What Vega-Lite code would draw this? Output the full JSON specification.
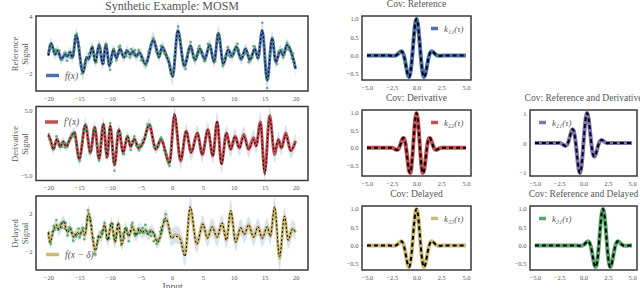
{
"$schema": "https://vega.github.io/schema/vega-lite/v6.json",
"padding": {"left": 9, "top": -2, "right": 0, "bottom": 0},
"background": "white",
"config": {
 "view": {"stroke": "#3a3a3a", "strokeWidth": 1.5},
 "axis": {"domain": false, "ticks": false, "grid": false, "labelFont": "Liberation Serif", "labelFontSize": 6.5, "labelColor": "#555", "labelPadding": 4, "labelFlush": false, "labelOverlap": false, "titleFont": "Liberation Serif", "titleFontSize": 8.5, "titleColor": "#555", "titleFontWeight": "normal"},
 "title": {"font": "Liberation Serif", "fontSize": 9.5, "color": "#555", "fontWeight": "normal", "offset": 2.5},
 "legend": {"labelFont": "Liberation Serif", "labelFontStyle": "italic", "labelFontSize": 9.5, "labelColor": "#555", "symbolType": "stroke", "symbolStrokeWidth": 3.5, "padding": 0, "offset": 6}
},
"datasets": {
 "ref": [
  {"x":-20,"m":-0.1,"lo":-0.7,"hi":0.5},{"x":-19.55,"m":1.15,"lo":0.55,"hi":1.75},{"x":-18.9,"m":0,"lo":-0.55,"hi":0.55},{"x":-18.5,"m":0.4,"lo":-0.15,"hi":0.95},{"x":-17.9,"m":-0.5,"lo":-1.05,"hi":0.05},{"x":-17.3,"m":0,"lo":-0.55,"hi":0.55},{"x":-16.9,"m":-0.2,"lo":-0.75,"hi":0.35},{"x":-16.5,"m":0.25,"lo":-0.3,"hi":0.8},{"x":-16.1,"m":-0.3,"lo":-0.85,"hi":0.25},{"x":-15.5,"m":2.0,"lo":1.2,"hi":2.8},{"x":-14.4,"m":-1.9,"lo":-2.7,"hi":-1.1},{"x":-13.8,"m":-0.3,"lo":-0.85,"hi":0.25},{"x":-13.5,"m":-0.5,"lo":-1.05,"hi":0.05},{"x":-12.9,"m":0.8,"lo":0.25,"hi":1.35},{"x":-12.4,"m":-0.8,"lo":-1.35,"hi":-0.25},{"x":-11.8,"m":1.0,"lo":0.4,"hi":1.6},{"x":-11.2,"m":-1.0,"lo":-1.6,"hi":-0.4},{"x":-10.7,"m":1.0,"lo":0.4,"hi":1.6},{"x":-10.1,"m":-1.2,"lo":-1.8,"hi":-0.6},{"x":-9.5,"m":0.5,"lo":-0.05,"hi":1.05},{"x":-9.0,"m":-0.4,"lo":-0.95,"hi":0.15},{"x":-8.4,"m":0.6,"lo":0.05,"hi":1.15},{"x":-7.8,"m":-0.3,"lo":-0.85,"hi":0.25},{"x":-7.3,"m":0.4,"lo":-0.15,"hi":0.95},{"x":-6.8,"m":0,"lo":-0.55,"hi":0.55},{"x":-6.3,"m":0.3,"lo":-0.25,"hi":0.85},{"x":-5.8,"m":-0.2,"lo":-0.75,"hi":0.35},{"x":-5.3,"m":0.2,"lo":-0.35,"hi":0.75},{"x":-4.3,"m":-1.0,"lo":-1.6,"hi":-0.4},{"x":-3.0,"m":1.5,"lo":0.7,"hi":2.4},{"x":-2.6,"m":0.8,"lo":0.25,"hi":1.4},{"x":-2.1,"m":-0.3,"lo":-0.85,"hi":0.25},{"x":-1.6,"m":0.8,"lo":0.25,"hi":1.35},{"x":-1.0,"m":0,"lo":-0.55,"hi":0.55},{"x":-0.5,"m":-0.8,"lo":-1.4,"hi":-0.2},{"x":0.1,"m":-2.3,"lo":-3.2,"hi":-1.4},{"x":0.95,"m":2.5,"lo":1.6,"hi":3.4},{"x":2.0,"m":-1.2,"lo":-1.8,"hi":-0.6},{"x":3.0,"m":0.9,"lo":0.3,"hi":1.5},{"x":3.7,"m":-0.6,"lo":-1.15,"hi":-0.05},{"x":4.5,"m":0.6,"lo":0.05,"hi":1.15},{"x":5.3,"m":-0.5,"lo":-1.05,"hi":0.05},{"x":6.1,"m":1.0,"lo":0.4,"hi":1.6},{"x":6.8,"m":-0.8,"lo":-1.4,"hi":-0.2},{"x":7.5,"m":2.2,"lo":1.4,"hi":3.0},{"x":8.3,"m":-1.0,"lo":-1.6,"hi":-0.4},{"x":9.1,"m":0.5,"lo":-0.05,"hi":1.05},{"x":9.7,"m":-0.2,"lo":-0.75,"hi":0.35},{"x":10.4,"m":0.8,"lo":0.25,"hi":1.35},{"x":11.2,"m":-0.5,"lo":-1.05,"hi":0.05},{"x":11.9,"m":0.6,"lo":0.05,"hi":1.15},{"x":12.6,"m":-0.6,"lo":-1.15,"hi":-0.05},{"x":13.4,"m":0.6,"lo":0.05,"hi":1.15},{"x":13.9,"m":-0.4,"lo":-0.95,"hi":0.15},{"x":14.6,"m":2.5,"lo":1.6,"hi":3.4},{"x":15.4,"m":-2.7,"lo":-3.6,"hi":-1.8},{"x":16.2,"m":1.7,"lo":0.9,"hi":2.5},{"x":16.8,"m":-0.8,"lo":-1.4,"hi":-0.2},{"x":17.5,"m":0.4,"lo":-0.15,"hi":0.95},{"x":18.0,"m":-0.1,"lo":-0.65,"hi":0.45},{"x":18.6,"m":1.0,"lo":0.4,"hi":1.6},{"x":19.4,"m":0,"lo":-0.55,"hi":0.55},{"x":20,"m":-1.5,"lo":-2.3,"hi":-0.7}
 ],
 "refpts": [
  {"x":-19.8,"y":0.7},{"x":-19.4,"y":0.6},{"x":-19.0,"y":0.25},{"x":-18.6,"y":0.15},{"x":-18.2,"y":0.4},{"x":-17.8,"y":-0.55},{"x":-17.4,"y":0.15},{"x":-17.0,"y":-0.65},{"x":-16.6,"y":0.2},{"x":-16.2,"y":0.2},{"x":-15.8,"y":0.7},{"x":-15.4,"y":2.15},{"x":-15.0,"y":0.7},{"x":-14.6,"y":-2.0},{"x":-14.2,"y":-1.5},{"x":-13.8,"y":-0.5},{"x":-13.4,"y":0.1},{"x":-13.0,"y":0.65},{"x":-12.6,"y":-0.1},{"x":-12.2,"y":-0.8},{"x":-11.8,"y":1.0},{"x":-11.4,"y":0.0},{"x":-11.0,"y":-0.9},{"x":-10.6,"y":1.1},{"x":-10.2,"y":-0.7},{"x":-9.8,"y":-0.8},{"x":-9.4,"y":0.55},{"x":-9.0,"y":-0.6},{"x":-8.6,"y":0.8},{"x":-8.2,"y":0.2},{"x":-7.8,"y":-0.1},{"x":-7.4,"y":-0.2},{"x":-7.0,"y":0.15},{"x":-6.6,"y":0.55},{"x":-6.2,"y":-0.05},{"x":-5.8,"y":0.0},{"x":-5.4,"y":0.45},{"x":-5.0,"y":-0.6},{"x":-4.6,"y":-0.7},{"x":-4.2,"y":-1.15},{"x":-3.8,"y":0.3},{"x":-3.4,"y":0.9},{"x":-3.0,"y":1.7},{"x":-2.6,"y":0.3},{"x":-2.2,"y":-0.2},{"x":-1.8,"y":0.9},{"x":-1.4,"y":0.3},{"x":-1.0,"y":0.2},{"x":-0.6,"y":-0.4},{"x":-0.2,"y":-2.0},{"x":0.2,"y":-2.0},{"x":0.6,"y":0.6},{"x":1.0,"y":2.9},{"x":1.4,"y":1.2},{"x":1.8,"y":-0.6},{"x":2.2,"y":-1.5},{"x":2.6,"y":0.2},{"x":3.0,"y":1.3},{"x":3.4,"y":-0.2},{"x":3.8,"y":-0.3},{"x":4.2,"y":0.6},{"x":4.6,"y":0.15},{"x":5.0,"y":-0.1},{"x":5.4,"y":-0.65},{"x":5.8,"y":1.1},{"x":6.2,"y":0.8},{"x":6.6,"y":-0.3},{"x":7.0,"y":-0.7},{"x":7.4,"y":2.1},{"x":7.8,"y":1.4},{"x":8.2,"y":-1.2},{"x":8.6,"y":-0.2},{"x":9.0,"y":0.75},{"x":9.4,"y":-0.25},{"x":9.8,"y":0.0},{"x":10.2,"y":0.4},{"x":10.6,"y":1.1},{"x":11.0,"y":-0.4},{"x":11.4,"y":-0.1},{"x":11.8,"y":0.05},{"x":12.2,"y":0.0},{"x":12.6,"y":-0.2},{"x":13.0,"y":-0.3},{"x":13.4,"y":0.8},{"x":13.8,"y":0.0},{"x":14.2,"y":0.8},{"x":14.6,"y":3.3},{"x":15.0,"y":-0.2},{"x":15.4,"y":-3.5},{"x":15.8,"y":0.0},{"x":16.2,"y":1.6},{"x":16.6,"y":0.2},{"x":17.0,"y":-1.0},{"x":17.4,"y":0.35},{"x":17.8,"y":0.5},{"x":18.2,"y":0.0},{"x":18.6,"y":1.2},{"x":19.0,"y":0.8},{"x":19.4,"y":-0.4},{"x":19.8,"y":-1.0},
  {"x":-19.6,"y":0.8},{"x":-18.8,"y":0.5},{"x":-18.0,"y":-0.55},{"x":-17.2,"y":0.15},{"x":-16.4,"y":-0.35},{"x":-15.6,"y":2.0},{"x":-14.8,"y":-0.7},{"x":-14.0,"y":-1.1},{"x":-13.2,"y":-0.1},{"x":-12.4,"y":-0.4},{"x":-11.6,"y":0.5},{"x":-10.8,"y":1.0},{"x":-10.0,"y":-1.6},{"x":-9.2,"y":0.2},{"x":-8.4,"y":0.9},{"x":-7.6,"y":-0.1},{"x":-6.8,"y":-0.3},{"x":-6.0,"y":0.45},{"x":-5.2,"y":0.05},{"x":-4.4,"y":-0.78},{"x":-3.6,"y":0.1},{"x":-2.8,"y":1.4},{"x":-2.0,"y":0.2},{"x":-1.2,"y":0.1},{"x":-0.4,"y":-1.3},{"x":0.4,"y":-0.2},{"x":1.2,"y":1.9},{"x":2.0,"y":-1.0},{"x":2.8,"y":0.3},{"x":3.6,"y":-0.45},{"x":4.4,"y":0.88},{"x":5.2,"y":-0.68},{"x":6.0,"y":0.65},{"x":6.8,"y":-0.4},{"x":7.6,"y":2.0},{"x":8.4,"y":-0.7},{"x":9.2,"y":-0.1},{"x":10.0,"y":0.4},{"x":10.8,"y":0.5},{"x":11.6,"y":0.0},{"x":12.4,"y":-0.8},{"x":13.2,"y":0.85},{"x":14.0,"y":-0.1},{"x":14.8,"y":1.5},{"x":15.6,"y":-2.5},{"x":16.4,"y":1.1},{"x":17.2,"y":0.3},{"x":18.0,"y":-0.3},{"x":18.8,"y":0.5},{"x":19.6,"y":0.1}
 ],
 "der": [
  {"x":-20,"m":1.2,"t":1.2,"lo":0.5,"hi":1.9},{"x":-19.6,"m":0.3,"t":0.3,"lo":-0.4,"hi":1.0},{"x":-19.2,"m":-1.0,"t":-1.0,"lo":-1.7,"hi":-0.3},{"x":-18.6,"m":0.6,"t":0.6,"lo":-0.1,"hi":1.3},{"x":-18.1,"m":-0.6,"t":-0.6,"lo":-1.3,"hi":0.1},{"x":-17.6,"m":0.2,"t":0.2,"lo":-0.5,"hi":0.9},{"x":-17.1,"m":-0.6,"t":-0.6,"lo":-1.3,"hi":0.1},{"x":-16.6,"m":0.4,"t":0.4,"lo":-0.3,"hi":1.1},{"x":-15.8,"m":1.6,"t":1.6,"lo":0.8,"hi":2.4},{"x":-15.0,"m":-2.5,"t":-2.5,"lo":-3.5,"hi":-1.5},{"x":-14.0,"m":2.8,"t":2.8,"lo":1.8,"hi":3.8},{"x":-13.2,"m":-1.5,"t":-1.5,"lo":-2.3,"hi":-0.7},{"x":-12.5,"m":2.4,"t":2.4,"lo":1.5,"hi":3.3},{"x":-11.8,"m":-2.5,"t":-2.5,"lo":-3.5,"hi":-1.5},{"x":-11.1,"m":2.9,"t":2.9,"lo":1.9,"hi":3.9},{"x":-10.5,"m":-2.2,"t":-2.2,"lo":-3.0,"hi":-1.4},{"x":-10.0,"m":2.6,"t":2.6,"lo":1.6,"hi":3.6},{"x":-9.3,"m":-3.4,"t":-3.4,"lo":-4.4,"hi":-2.4},{"x":-8.6,"m":2.0,"t":2.0,"lo":1.2,"hi":2.8},{"x":-7.9,"m":-1.5,"t":-1.5,"lo":-2.3,"hi":-0.7},{"x":-7.2,"m":1.0,"t":1.0,"lo":0.3,"hi":1.7},{"x":-6.7,"m":-0.6,"t":-0.6,"lo":-1.3,"hi":0.1},{"x":-6.1,"m":0.6,"t":0.6,"lo":-0.1,"hi":1.3},{"x":-5.4,"m":-0.8,"t":-0.8,"lo":-1.5,"hi":-0.1},{"x":-4.6,"m":0.2,"t":0.2,"lo":-0.5,"hi":0.9},{"x":-3.7,"m":2.8,"t":2.8,"lo":1.8,"hi":3.8},{"x":-2.6,"m":-1.0,"t":-1.0,"lo":-1.7,"hi":-0.3},{"x":-1.8,"m":0.5,"t":0.5,"lo":-0.2,"hi":1.2},{"x":-0.4,"m":-3.0,"t":-3.2,"lo":-4.0,"hi":-2.0},{"x":0.4,"m":4.2,"t":4.6,"lo":2.7,"hi":5.6},{"x":1.4,"m":-2.8,"t":-2.6,"lo":-4.1,"hi":-1.5},{"x":2.3,"m":1.8,"t":1.8,"lo":0.6,"hi":3.0},{"x":3.1,"m":-1.5,"t":-1.5,"lo":-2.7,"hi":-0.3},{"x":4.1,"m":1.5,"t":1.5,"lo":0.3,"hi":2.7},{"x":4.9,"m":-1.8,"t":-1.8,"lo":-3.0,"hi":-0.6},{"x":5.8,"m":2.0,"t":2.0,"lo":0.8,"hi":3.2},{"x":6.6,"m":-2.0,"t":-2.0,"lo":-3.2,"hi":-0.8},{"x":7.3,"m":3.2,"t":3.4,"lo":1.7,"hi":4.7},{"x":8.0,"m":-3.2,"t":-3.4,"lo":-4.7,"hi":-1.7},{"x":8.8,"m":1.5,"t":1.5,"lo":0.3,"hi":2.7},{"x":9.5,"m":-1.0,"t":-1.0,"lo":-2.2,"hi":0.2},{"x":10.2,"m":1.0,"t":1.0,"lo":-0.2,"hi":2.2},{"x":10.9,"m":-0.8,"t":-0.8,"lo":-2.0,"hi":0.4},{"x":11.6,"m":1.3,"t":1.0,"lo":0.1,"hi":2.5},{"x":12.4,"m":-1.0,"t":-1.0,"lo":-2.2,"hi":0.2},{"x":13.2,"m":0.8,"t":0.5,"lo":-0.4,"hi":2.0},{"x":13.6,"m":-0.5,"t":-0.5,"lo":-1.7,"hi":0.7},{"x":14.3,"m":3.2,"t":3.0,"lo":1.7,"hi":4.7},{"x":15.0,"m":-4.5,"t":-5.0,"lo":-5.8,"hi":-3.0},{"x":15.8,"m":4.2,"t":3.9,"lo":2.7,"hi":5.6},{"x":16.6,"m":-1.8,"t":-1.4,"lo":-3.0,"hi":-0.6},{"x":17.2,"m":0.5,"t":0.5,"lo":-0.7,"hi":1.7},{"x":17.7,"m":-0.8,"t":-0.8,"lo":-2.0,"hi":0.4},{"x":18.4,"m":1.5,"t":1.2,"lo":0.3,"hi":2.7},{"x":19.2,"m":-1.2,"t":-1.2,"lo":-2.4,"hi":0.0},{"x":20,"m":0.3,"t":0.3,"lo":-0.9,"hi":1.5}
 ],
 "derpts": [
  {"x":-19.9,"y":1.3},{"x":-19.6,"y":-0.1},{"x":-19.3,"y":-0.8},{"x":-19.0,"y":-0.8},{"x":-18.7,"y":1.0},{"x":-18.4,"y":0.1},{"x":-18.1,"y":-0.4},{"x":-17.8,"y":-0.6},{"x":-17.5,"y":0.1},{"x":-17.2,"y":-0.1},{"x":-16.9,"y":-0.6},{"x":-16.6,"y":0.6},{"x":-16.3,"y":1.1},{"x":-16.0,"y":1.0},{"x":-15.7,"y":1.6},{"x":-15.4,"y":-0.6},{"x":-15.1,"y":-1.8},{"x":-14.8,"y":-2.1},{"x":-14.5,"y":0.4},{"x":-14.2,"y":1.9},{"x":-13.9,"y":2.7},{"x":-13.6,"y":1.2},{"x":-13.3,"y":-1.6},{"x":-13.0,"y":-0.6},{"x":-12.7,"y":2.0},{"x":-12.4,"y":1.8},{"x":-12.1,"y":-0.4},{"x":-11.8,"y":-2.7},{"x":-11.5,"y":0.2},{"x":-11.2,"y":2.6},{"x":-10.9,"y":2.0},{"x":-10.6,"y":-2.3},{"x":-10.3,"y":-0.8},{"x":-10.0,"y":3.0},{"x":-9.7,"y":0.2},{"x":-9.4,"y":-3.0},{"x":-9.3,"y":-4.3},{"x":-8.8,"y":1.5},{"x":-8.5,"y":1.4},{"x":-8.2,"y":-0.1},{"x":-7.9,"y":-1.7},{"x":-7.6,"y":0.0},{"x":-7.3,"y":0.8},{"x":-7.0,"y":0.5},{"x":-6.7,"y":-1.1},{"x":-6.4,"y":0.0},{"x":-6.1,"y":1.0},{"x":-5.8,"y":-0.4},{"x":-5.5,"y":-0.5},{"x":-5.2,"y":-0.3},{"x":-4.9,"y":-0.5},{"x":-4.6,"y":0.3},{"x":-4.3,"y":1.0},{"x":-4.0,"y":2.8},{"x":-3.7,"y":2.7},{"x":-3.4,"y":2.4},{"x":-3.1,"y":0.3},{"x":-2.8,"y":-0.6},{"x":-2.5,"y":-0.5},{"x":-2.2,"y":-0.6},{"x":-1.9,"y":0.6},{"x":-1.6,"y":0.5},{"x":-1.3,"y":-1.1},{"x":-1.0,"y":-1.6},{"x":-0.7,"y":-2.8},{"x":-0.4,"y":-3.5},{"x":-0.1,"y":-0.8},
  {"x":-19.75,"y":0.4},{"x":-19.15,"y":-0.6},{"x":-18.55,"y":0.45},{"x":-17.95,"y":-0.2},{"x":-17.35,"y":-0.7},{"x":-16.75,"y":0.1},{"x":-16.15,"y":1.4},{"x":-15.55,"y":0.3},{"x":-14.95,"y":-2.8},{"x":-14.35,"y":2.0},{"x":-13.75,"y":2.0},{"x":-13.15,"y":-1.2},{"x":-12.55,"y":1.9},{"x":-11.95,"y":-1.7},{"x":-11.35,"y":1.7},{"x":-10.75,"y":-0.9},{"x":-10.15,"y":1.5},{"x":-9.55,"y":-1.4},{"x":-8.95,"y":-1.0},{"x":-8.35,"y":1.4},{"x":-7.75,"y":-1.7},{"x":-7.15,"y":1.0},{"x":-6.55,"y":0.0},{"x":-5.95,"y":0.3},{"x":-5.35,"y":-1.1},{"x":-4.75,"y":0.4},{"x":-4.15,"y":1.7},{"x":-3.55,"y":2.8},{"x":-2.95,"y":-0.6},{"x":-2.35,"y":-0.6},{"x":-1.75,"y":0.8},{"x":-1.15,"y":-1.4},{"x":-0.55,"y":-3.2}
 ],
 "del": [
  {"x":-20,"m":0,"t":0,"lo":-0.65,"hi":0.65},{"x":-19.7,"m":-1.0,"t":-1.0,"lo":-1.65,"hi":-0.35},{"x":-19.2,"m":0.2,"t":0.2,"lo":-0.45,"hi":0.85},{"x":-18.7,"m":0.8,"t":0.8,"lo":0.15,"hi":1.45},{"x":-18.3,"m":0.3,"t":0.3,"lo":-0.35,"hi":0.95},{"x":-17.55,"m":1.15,"t":1.15,"lo":0.5,"hi":1.8},{"x":-16.9,"m":0,"t":0,"lo":-0.65,"hi":0.65},{"x":-16.5,"m":0.4,"t":0.4,"lo":-0.25,"hi":1.05},{"x":-15.9,"m":-0.5,"t":-0.5,"lo":-1.15,"hi":0.15},{"x":-15.3,"m":0,"t":0,"lo":-0.65,"hi":0.65},{"x":-14.9,"m":-0.2,"t":-0.2,"lo":-0.85,"hi":0.45},{"x":-14.5,"m":0.25,"t":0.25,"lo":-0.4,"hi":0.9},{"x":-14.1,"m":-0.3,"t":-0.3,"lo":-0.95,"hi":0.35},{"x":-13.5,"m":2.0,"t":2.0,"lo":1.2,"hi":2.8},{"x":-12.4,"m":-1.9,"t":-1.9,"lo":-2.7,"hi":-1.1},{"x":-11.8,"m":-0.3,"t":-0.3,"lo":-0.95,"hi":0.35},{"x":-11.5,"m":-0.5,"t":-0.5,"lo":-1.15,"hi":0.15},{"x":-10.9,"m":0.8,"t":0.8,"lo":0.15,"hi":1.45},{"x":-10.4,"m":-0.8,"t":-0.8,"lo":-1.45,"hi":-0.15},{"x":-9.8,"m":1.0,"t":1.0,"lo":0.35,"hi":1.65},{"x":-9.2,"m":-1.0,"t":-1.0,"lo":-1.65,"hi":-0.35},{"x":-8.7,"m":1.0,"t":1.0,"lo":0.35,"hi":1.65},{"x":-8.1,"m":-1.2,"t":-1.2,"lo":-1.85,"hi":-0.55},{"x":-7.5,"m":0.5,"t":0.5,"lo":-0.15,"hi":1.15},{"x":-7.0,"m":-0.4,"t":-0.4,"lo":-1.05,"hi":0.25},{"x":-6.4,"m":0.6,"t":0.6,"lo":-0.05,"hi":1.25},{"x":-5.8,"m":-0.3,"t":-0.3,"lo":-0.95,"hi":0.35},{"x":-5.3,"m":0.4,"t":0.4,"lo":-0.25,"hi":1.05},{"x":-4.8,"m":0,"t":0,"lo":-0.65,"hi":0.65},{"x":-4.3,"m":0.3,"t":0.3,"lo":-0.35,"hi":0.95},{"x":-3.8,"m":-0.2,"t":-0.2,"lo":-0.85,"hi":0.45},{"x":-3.3,"m":0.2,"t":0.2,"lo":-0.45,"hi":0.85},{"x":-2.3,"m":-1.0,"t":-1.0,"lo":-1.65,"hi":-0.35},{"x":-1.0,"m":1.5,"t":1.5,"lo":0.6,"hi":2.4},{"x":-0.6,"m":0.8,"t":0.8,"lo":-0.1,"hi":1.7},{"x":-0.1,"m":-0.5,"t":-0.6,"lo":-1.4,"hi":0.4},{"x":0.6,"m":-0.2,"t":-0.4,"lo":-1.1,"hi":0.7},{"x":1.3,"m":-0.5,"t":-0.7,"lo":-1.4,"hi":0.4},{"x":2.1,"m":-2.3,"t":-2.5,"lo":-3.5,"hi":-1.1},{"x":2.95,"m":2.5,"t":2.7,"lo":1.3,"hi":3.7},{"x":4.0,"m":-1.2,"t":-1.2,"lo":-2.1,"hi":-0.3},{"x":5.0,"m":0.9,"t":0.9,"lo":0.0,"hi":1.8},{"x":5.7,"m":-0.6,"t":-0.6,"lo":-1.5,"hi":0.3},{"x":6.5,"m":0.6,"t":0.6,"lo":-0.3,"hi":1.5},{"x":7.3,"m":-0.5,"t":-0.5,"lo":-1.4,"hi":0.4},{"x":8.1,"m":1.0,"t":1.0,"lo":0.1,"hi":1.9},{"x":8.8,"m":-0.8,"t":-0.8,"lo":-1.7,"hi":0.1},{"x":9.5,"m":2.2,"t":2.3,"lo":1.0,"hi":3.4},{"x":10.3,"m":-1.0,"t":-1.0,"lo":-1.9,"hi":-0.1},{"x":11.1,"m":0.5,"t":0.5,"lo":-0.4,"hi":1.4},{"x":11.7,"m":-0.2,"t":-0.2,"lo":-1.1,"hi":0.7},{"x":12.4,"m":0.8,"t":0.8,"lo":-0.1,"hi":1.7},{"x":13.2,"m":-0.5,"t":-0.5,"lo":-1.4,"hi":0.4},{"x":13.9,"m":0.6,"t":0.6,"lo":-0.3,"hi":1.5},{"x":14.6,"m":-0.6,"t":-0.6,"lo":-1.5,"hi":0.3},{"x":15.4,"m":0.6,"t":0.6,"lo":-0.3,"hi":1.5},{"x":15.9,"m":-0.4,"t":-0.4,"lo":-1.3,"hi":0.5},{"x":16.6,"m":2.5,"t":2.7,"lo":1.3,"hi":3.7},{"x":17.4,"m":-2.7,"t":-2.5,"lo":-3.9,"hi":-1.5},{"x":18.2,"m":1.7,"t":1.7,"lo":0.8,"hi":2.6},{"x":18.8,"m":-0.8,"t":-0.8,"lo":-1.7,"hi":0.1},{"x":19.5,"m":0.4,"t":0.4,"lo":-0.5,"hi":1.3},{"x":20,"m":0,"t":0,"lo":-0.9,"hi":0.9}
 ],
 "delpts": [
  {"x":-19.9,"y":0.0},{"x":-19.6,"y":-1.2},{"x":-19.3,"y":0.1},{"x":-19.0,"y":0.3},{"x":-18.7,"y":1.3},{"x":-18.4,"y":0.3},{"x":-18.1,"y":0.8},{"x":-17.8,"y":0.5},{"x":-17.5,"y":1.15},{"x":-17.2,"y":1.0},{"x":-16.9,"y":-0.3},{"x":-16.6,"y":0.55},{"x":-16.3,"y":0.4},{"x":-16.0,"y":-0.85},{"x":-15.7,"y":-0.25},{"x":-15.4,"y":-0.25},{"x":-15.1,"y":0.4},{"x":-14.8,"y":-0.2},{"x":-14.5,"y":0.45},{"x":-14.2,"y":-0.7},{"x":-13.9,"y":0.6},{"x":-13.6,"y":2.3},{"x":-13.3,"y":1.3},{"x":-13.0,"y":0.7},{"x":-12.7,"y":-0.6},{"x":-12.4,"y":-2.3},{"x":-12.1,"y":-1.1},{"x":-11.8,"y":-0.5},{"x":-11.5,"y":0.0},{"x":-11.2,"y":0.1},{"x":-10.9,"y":1.0},{"x":-10.6,"y":-0.5},{"x":-10.3,"y":-0.7},{"x":-10.0,"y":0.8},{"x":-9.7,"y":0.6},{"x":-9.4,"y":-0.3},{"x":-9.1,"y":-0.6},{"x":-8.8,"y":0.4},{"x":-8.5,"y":0.4},{"x":-8.2,"y":-1.3},{"x":-7.9,"y":-0.1},{"x":-7.6,"y":0.3},{"x":-7.3,"y":0.4},{"x":-7.0,"y":-0.9},{"x":-6.7,"y":0.1},{"x":-6.4,"y":1.0},{"x":-6.1,"y":-0.2},{"x":-5.8,"y":-0.1},{"x":-5.5,"y":0.4},{"x":-5.2,"y":-0.05},{"x":-4.9,"y":0.15},{"x":-4.6,"y":-0.05},{"x":-4.3,"y":0.8},{"x":-4.0,"y":-0.1},{"x":-3.7,"y":0.05},{"x":-3.4,"y":-0.35},{"x":-3.1,"y":0.0},{"x":-2.8,"y":-0.2},{"x":-2.5,"y":-1.2},{"x":-2.2,"y":-0.7},{"x":-1.9,"y":0.1},{"x":-1.6,"y":0.1},{"x":-1.3,"y":1.3},{"x":-1.0,"y":1.9},
  {"x":-19.75,"y":-1.0},{"x":-19.15,"y":0.7},{"x":-18.55,"y":0.5},{"x":-17.95,"y":1.0},{"x":-17.35,"y":0.4},{"x":-16.75,"y":0.25},{"x":-16.15,"y":0.0},{"x":-15.55,"y":-0.4},{"x":-14.95,"y":-0.5},{"x":-14.35,"y":0.45},{"x":-13.75,"y":1.4},{"x":-13.15,"y":1.3},{"x":-12.55,"y":-2.2},{"x":-11.95,"y":-0.4},{"x":-11.35,"y":0.1},{"x":-10.75,"y":0.3},{"x":-10.15,"y":-0.6},{"x":-9.55,"y":0.9},{"x":-8.95,"y":-0.2},{"x":-8.35,"y":-0.3},{"x":-7.75,"y":-0.6},{"x":-7.15,"y":-0.1},{"x":-6.55,"y":0.75},{"x":-5.95,"y":-0.35},{"x":-5.35,"y":0.08},{"x":-4.75,"y":0.45},{"x":-4.15,"y":0.1},{"x":-3.55,"y":0.2},{"x":-2.95,"y":-0.9},{"x":-2.35,"y":-0.9},{"x":-1.75,"y":0.5},{"x":-1.15,"y":1.2}
 ],
 "cov": [
  {"t":-5,"a":0,"b":0,"c":0,"d":0},{"t":-4.5,"a":0,"b":0,"c":0,"d":0},{"t":-4,"a":0,"b":0,"c":0,"d":0},{"t":-3.5,"a":0,"b":0,"c":0,"d":0},{"t":-3,"a":0,"b":0,"c":0,"d":0},{"t":-2.75,"a":0,"b":0,"c":0,"d":0},
  {"t":-2.5,"a":-0.004,"b":0.003,"c":0.007,"d":0},{"t":-2.375,"a":-0.008,"b":-0.007,"c":-0.002,"d":0},{"t":-2.25,"a":-0.007,"b":-0.026,"c":-0.021,"d":0},{"t":-2.125,"a":0,"b":-0.048,"c":-0.049,"d":0},{"t":-2,"a":0.016,"b":-0.061,"c":-0.079,"d":0},{"t":-1.875,"a":0.044,"b":-0.051,"c":-0.097,"d":0},{"t":-1.75,"a":0.078,"b":0,"c":-0.083,"d":0},{"t":-1.625,"a":0.108,"b":0.092,"c":-0.02,"d":0},{"t":-1.5,"a":0.115,"b":0.199,"c":0.095,"d":0},{"t":-1.375,"a":0.075,"b":0.279,"c":0.246,"d":0},{"t":-1.25,"a":-0.025,"b":0.274,"c":0.389,"d":0},{"t":-1.125,"a":-0.183,"b":0.141,"c":0.462,"d":0},{"t":-1,"a":-0.371,"b":-0.114,"c":0.407,"d":0},{"t":-0.875,"a":-0.529,"b":-0.423,"c":0.196,"d":0},{"t":-0.75,"a":-0.586,"b":-0.669,"c":-0.148,"d":0},{"t":-0.625,"a":-0.487,"b":-0.727,"c":-0.544,"d":0},{"t":-0.5,"a":-0.223,"b":-0.528,"c":-0.87,"d":-0.004},{"t":-0.375,"a":0.164,"b":-0.102,"c":-1.006,"d":-0.008},{"t":-0.25,"a":0.572,"b":0.416,"c":-0.886,"d":-0.007},{"t":-0.125,"a":0.884,"b":0.838,"c":-0.519,"d":0},{"t":0,"a":1,"b":1,"c":0,"d":0.016},{"t":0.125,"a":0.884,"b":0.838,"c":0.519,"d":0.044},{"t":0.25,"a":0.572,"b":0.416,"c":0.886,"d":0.078},{"t":0.375,"a":0.164,"b":-0.102,"c":1.006,"d":0.108},{"t":0.5,"a":-0.223,"b":-0.528,"c":0.87,"d":0.115},{"t":0.625,"a":-0.487,"b":-0.727,"c":0.544,"d":0.075},{"t":0.75,"a":-0.586,"b":-0.669,"c":0.148,"d":-0.025},{"t":0.875,"a":-0.529,"b":-0.423,"c":-0.196,"d":-0.183},{"t":1,"a":-0.371,"b":-0.114,"c":-0.407,"d":-0.371},{"t":1.125,"a":-0.183,"b":0.141,"c":-0.462,"d":-0.529},{"t":1.25,"a":-0.025,"b":0.274,"c":-0.389,"d":-0.586},{"t":1.375,"a":0.075,"b":0.279,"c":-0.246,"d":-0.487},{"t":1.5,"a":0.115,"b":0.199,"c":-0.095,"d":-0.223},{"t":1.625,"a":0.108,"b":0.092,"c":0.02,"d":0.164},{"t":1.75,"a":0.078,"b":0,"c":0.083,"d":0.572},{"t":1.875,"a":0.044,"b":-0.051,"c":0.097,"d":0.884},{"t":2,"a":0.016,"b":-0.061,"c":0.079,"d":1},{"t":2.125,"a":0,"b":-0.048,"c":0.049,"d":0.884},{"t":2.25,"a":-0.007,"b":-0.026,"c":0.021,"d":0.572},{"t":2.375,"a":-0.008,"b":-0.007,"c":0.002,"d":0.164},{"t":2.5,"a":-0.004,"b":0.003,"c":-0.007,"d":-0.223},{"t":2.625,"a":0,"b":0,"c":0,"d":-0.487},{"t":2.75,"a":0,"b":0,"c":0,"d":-0.586},{"t":2.875,"a":0,"b":0,"c":0,"d":-0.529},{"t":3,"a":0,"b":0,"c":0,"d":-0.371},{"t":3.125,"a":0,"b":0,"c":0,"d":-0.183},{"t":3.25,"a":0,"b":0,"c":0,"d":-0.025},{"t":3.375,"a":0,"b":0,"c":0,"d":0.075},{"t":3.5,"a":0,"b":0,"c":0,"d":0.115},{"t":3.625,"a":0,"b":0,"c":0,"d":0.108},{"t":3.75,"a":0,"b":0,"c":0,"d":0.078},{"t":3.875,"a":0,"b":0,"c":0,"d":0.044},{"t":4,"a":0,"b":0,"c":0,"d":0.016},{"t":4.125,"a":0,"b":0,"c":0,"d":0},{"t":4.25,"a":0,"b":0,"c":0,"d":-0.007},{"t":4.375,"a":0,"b":0,"c":0,"d":-0.008},{"t":4.5,"a":0,"b":0,"c":0,"d":-0.004},{"t":4.75,"a":0,"b":0,"c":0,"d":0},{"t":5,"a":0,"b":0,"c":0,"d":0}
 ]
},
"spacing": 30,
"resolve": {"scale": {"color": "independent"}, "legend": {"color": "independent"}},
"hconcat": [
 {
  "bounds": "flush",
  "spacing": 15.5,
  "resolve": {"scale": {"color": "independent"}, "legend": {"color": "independent"}},
  "vconcat": [
   {
    "width": 272, "height": 75,
    "title": {"text": "Synthetic Example: MOSM", "fontSize": 12, "offset": 0},
    "data": {"name": "ref"},
    "encoding": {"x": {"field": "x", "type": "quantitative", "scale": {"domain": [-22, 22], "nice": false}, "axis": {"values": [-20,-15,-10,-5,0,5,10,15,20], "title": null}}},
    "layer": [
     {"mark": {"type": "area", "interpolate": "monotone", "color": "#4C72B0", "opacity": 0.2, "clip": true},
      "encoding": {"y": {"field": "lo", "type": "quantitative", "scale": {"domain": [-3.8, 4], "nice": false}, "axis": {"values": [-2,0,2,4], "format": "d", "title": ["Reference", "Signal"], "titleX": -17}}, "y2": {"field": "hi"}}},
     {"mark": {"type": "line", "interpolate": "monotone", "strokeWidth": 3, "clip": true},
      "encoding": {"y": {"field": "m", "type": "quantitative"}, "color": {"datum": "f(x)", "type": "nominal", "scale": {"range": ["#4C72B0"]}, "legend": {"title": null, "orient": "bottom-left", "symbolSize": 169, "offset": 8}}}},
     {"data": {"name": "refpts"}, "mark": {"type": "circle", "size": 7, "color": "#55A868", "opacity": 0.9, "clip": true},
      "encoding": {"y": {"field": "y", "type": "quantitative"}}},
     {"mark": {"type": "line", "interpolate": "monotone", "strokeWidth": 1, "color": "black", "strokeDash": [2, 2], "clip": true},
      "encoding": {"y": {"field": "m", "type": "quantitative"}}}
    ]
   },
   {
    "width": 272, "height": 74,
    "data": {"name": "der"},
    "encoding": {"x": {"field": "x", "type": "quantitative", "scale": {"domain": [-22, 22], "nice": false}, "axis": {"values": [-20,-15,-10,-5,0,5,10,15,20], "title": null}}},
    "layer": [
     {"mark": {"type": "area", "interpolate": "monotone", "color": "#4C72B0", "opacity": 0.2, "clip": true},
      "encoding": {"y": {"field": "lo", "type": "quantitative", "scale": {"domain": [-5.8, 5.6], "nice": false}, "axis": {"values": [-5,-2.5,0,2.5,5], "format": ".1f", "title": ["Derivative", "Signal"], "titleX": -17}}, "y2": {"field": "hi"}}},
     {"mark": {"type": "line", "interpolate": "monotone", "strokeWidth": 3, "clip": true},
      "encoding": {"y": {"field": "m", "type": "quantitative"}, "color": {"datum": "f′(x)", "type": "nominal", "scale": {"range": ["#C44E52"]}, "legend": {"title": null, "orient": "top-left", "symbolSize": 169, "offset": 7}}}},
     {"data": {"name": "derpts"}, "mark": {"type": "circle", "size": 7, "color": "#55A868", "opacity": 0.9, "clip": true},
      "encoding": {"y": {"field": "y", "type": "quantitative"}}},
     {"mark": {"type": "line", "interpolate": "monotone", "strokeWidth": 1, "color": "black", "strokeDash": [2, 2], "clip": true},
      "encoding": {"y": {"field": "t", "type": "quantitative"}}}
    ]
   },
   {
    "width": 272, "height": 74,
    "data": {"name": "del"},
    "encoding": {"x": {"field": "x", "type": "quantitative", "scale": {"domain": [-22, 22], "nice": false}, "axis": {"values": [-20,-15,-10,-5,0,5,10,15,20], "title": "Input", "titleFontSize": 9.5, "titleY": 11}}},
    "layer": [
     {"mark": {"type": "area", "interpolate": "monotone", "color": "#4C72B0", "opacity": 0.2, "clip": true},
      "encoding": {"y": {"field": "lo", "type": "quantitative", "scale": {"domain": [-3.9, 3.8], "nice": false}, "axis": {"values": [-2,0,2], "format": "d", "title": ["Delayed", "Signal"], "titleX": -17}}, "y2": {"field": "hi"}}},
     {"mark": {"type": "line", "interpolate": "monotone", "strokeWidth": 3, "clip": true},
      "encoding": {"y": {"field": "m", "type": "quantitative"}, "color": {"datum": "f(x − δ)", "type": "nominal", "scale": {"range": ["#CCB974"]}, "legend": {"title": null, "orient": "bottom-left", "symbolSize": 169, "offset": 8}}}},
     {"data": {"name": "delpts"}, "mark": {"type": "circle", "size": 7, "color": "#55A868", "opacity": 0.9, "clip": true},
      "encoding": {"y": {"field": "y", "type": "quantitative"}}},
     {"mark": {"type": "line", "interpolate": "monotone", "strokeWidth": 1, "color": "black", "strokeDash": [2, 2], "clip": true},
      "encoding": {"y": {"field": "t", "type": "quantitative"}}}
    ]
   }
  ]
 },
 {
  "bounds": "flush",
  "spacing": 30,
  "resolve": {"scale": {"color": "independent"}, "legend": {"color": "independent"}},
  "vconcat": [
   {
    "width": 109, "height": 64,
    "title": "Cov: Reference",
    "data": {"name": "cov"},
    "encoding": {"x": {"field": "t", "type": "quantitative", "scale": {"domain": [-5.5, 5.5], "nice": false}, "axis": {"values": [-5,-2.5,0,2.5,5], "format": ".1f", "title": null}},
                 "y": {"field": "a", "type": "quantitative", "scale": {"domain": [-0.666, 1.079], "nice": false}, "axis": {"values": [-0.5,0,0.5,1], "format": ".1f", "title": null, "minExtent": 22, "maxExtent": 22}}},
    "layer": [
     {"mark": {"type": "line", "interpolate": "monotone", "strokeWidth": 4}, "encoding": {"color": {"datum": "k₁₁(τ)", "type": "nominal", "scale": {"range": ["#4C72B0"]}, "legend": {"title": null, "orient": "top-right", "symbolSize": 49, "offset": 7, "labelFontSize": 9}}}},
     {"mark": {"type": "line", "interpolate": "monotone", "strokeWidth": 2, "color": "black", "strokeDash": [4, 3]}, "encoding": {}}
    ]
   },
   {
    "width": 109, "height": 66,
    "title": "Cov: Derivative",
    "data": {"name": "cov"},
    "encoding": {"x": {"field": "t", "type": "quantitative", "scale": {"domain": [-5.5, 5.5], "nice": false}, "axis": {"values": [-5,-2.5,0,2.5,5], "format": ".1f", "title": null}},
                 "y": {"field": "b", "type": "quantitative", "scale": {"domain": [-0.813, 1.086], "nice": false}, "axis": {"values": [-0.5,0,0.5,1], "format": ".1f", "title": null, "minExtent": 22, "maxExtent": 22}}},
    "layer": [
     {"mark": {"type": "line", "interpolate": "monotone", "strokeWidth": 4}, "encoding": {"color": {"datum": "k₂₂(τ)", "type": "nominal", "scale": {"range": ["#C44E52"]}, "legend": {"title": null, "orient": "top-right", "symbolSize": 49, "offset": 7, "labelFontSize": 9}}}},
     {"mark": {"type": "line", "interpolate": "monotone", "strokeWidth": 2, "color": "black", "strokeDash": [4, 3]}, "encoding": {}}
    ]
   },
   {
    "width": 109, "height": 64,
    "title": "Cov: Delayed",
    "data": {"name": "cov"},
    "encoding": {"x": {"field": "t", "type": "quantitative", "scale": {"domain": [-5.5, 5.5], "nice": false}, "axis": {"values": [-5,-2.5,0,2.5,5], "format": ".1f", "title": null}},
                 "y": {"field": "a", "type": "quantitative", "scale": {"domain": [-0.666, 1.079], "nice": false}, "axis": {"values": [-0.5,0,0.5,1], "format": ".1f", "title": null, "minExtent": 22, "maxExtent": 22}}},
    "layer": [
     {"mark": {"type": "line", "interpolate": "monotone", "strokeWidth": 4}, "encoding": {"color": {"datum": "k₃₃(τ)", "type": "nominal", "scale": {"range": ["#CCB974"]}, "legend": {"title": null, "orient": "top-right", "symbolSize": 49, "offset": 7, "labelFontSize": 9}}}},
     {"mark": {"type": "line", "interpolate": "monotone", "strokeWidth": 2, "color": "black", "strokeDash": [4, 3]}, "encoding": {}}
    ]
   }
  ]
 },
 {
  "bounds": "flush",
  "spacing": 30,
  "resolve": {"scale": {"color": "independent"}, "legend": {"color": "independent"}},
  "vconcat": [
   {
    "width": 107, "height": 64,
    "title": {"text": "Cov", "color": "rgba(255,255,255,0)"},
    "view": {"stroke": null},
    "data": {"values": [{"t": 0}]},
    "mark": {"type": "point", "opacity": 0},
    "encoding": {}
   },
   {
    "width": 107, "height": 66,
    "title": "Cov: Reference and Derivative",
    "data": {"name": "cov"},
    "encoding": {"x": {"field": "t", "type": "quantitative", "scale": {"domain": [-5.5, 5.5], "nice": false}, "axis": {"values": [-5,-2.5,0,2.5,5], "format": ".1f", "title": null}},
                 "y": {"field": "c", "type": "quantitative", "scale": {"domain": [-1.107, 1.107], "nice": false}, "axis": {"values": [-1,0,1], "format": "d", "title": null, "minExtent": 24, "maxExtent": 24}}},
    "layer": [
     {"mark": {"type": "line", "interpolate": "monotone", "strokeWidth": 4}, "encoding": {"color": {"datum": "k₂₁(τ)", "type": "nominal", "scale": {"range": ["#8172B2"]}, "legend": {"title": null, "orient": "top-left", "symbolSize": 49, "offset": 7, "labelFontSize": 9}}}},
     {"mark": {"type": "line", "interpolate": "monotone", "strokeWidth": 2, "color": "black", "strokeDash": [4, 3]}, "encoding": {}}
    ]
   },
   {
    "width": 107, "height": 64,
    "title": "Cov: Reference and Delayed",
    "data": {"name": "cov"},
    "encoding": {"x": {"field": "t", "type": "quantitative", "scale": {"domain": [-5.5, 5.5], "nice": false}, "axis": {"values": [-5,-2.5,0,2.5,5], "format": ".1f", "title": null}},
                 "y": {"field": "d", "type": "quantitative", "scale": {"domain": [-0.666, 1.079], "nice": false}, "axis": {"values": [-0.5,0,0.5,1], "format": ".1f", "title": null, "minExtent": 24, "maxExtent": 24}}},
    "layer": [
     {"mark": {"type": "line", "interpolate": "monotone", "strokeWidth": 4}, "encoding": {"color": {"datum": "k₃₁(τ)", "type": "nominal", "scale": {"range": ["#55A868"]}, "legend": {"title": null, "orient": "top-left", "symbolSize": 49, "offset": 7, "labelFontSize": 9}}}},
     {"mark": {"type": "line", "interpolate": "monotone", "strokeWidth": 2, "color": "black", "strokeDash": [4, 3]}, "encoding": {}}
    ]
   }
  ]
 }
]
}
